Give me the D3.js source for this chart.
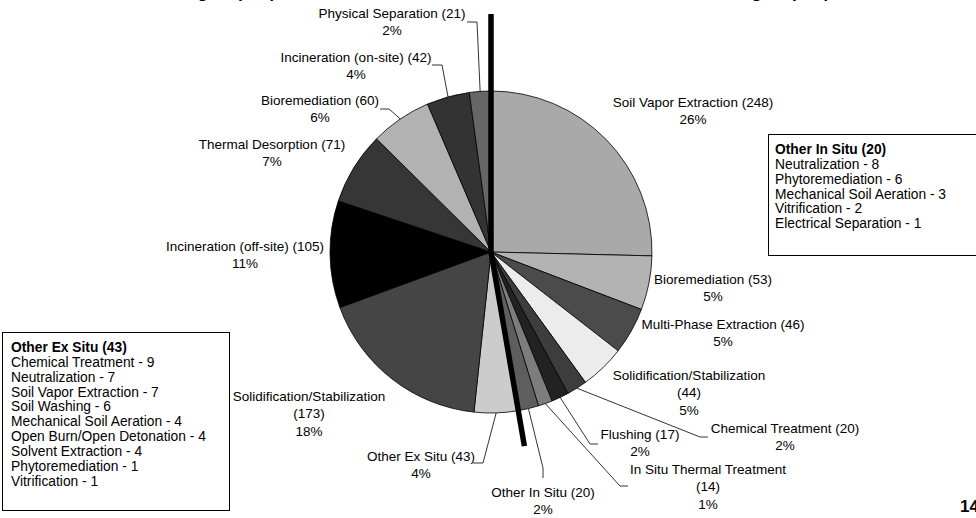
<!DOCTYPE html>
<html><head><meta charset="utf-8">
<script src="https://cdn.jsdelivr.net/npm/d3@7"></script>
<style>
html,body{margin:0;padding:0;background:#fff;}
svg{display:block;}
text{font-family:"Liberation Sans",Arial,Helvetica,sans-serif;fill:#000;}
</style>
</head><body>
<svg id="chart" width="976" height="518"></svg>
<script>
// ---- data ----
const categories = ["Soil Vapor Extraction","Bioremediation","Multi-Phase Extraction","Solidification/Stabilization","Chemical Treatment","Flushing","In Situ Thermal Treatment","Other In Situ","Other Ex Situ","Solidification/Stabilization","Incineration (off-site)","Thermal Desorption","Bioremediation","Incineration (on-site)","Physical Separation"];
const counts = [248,53,46,44,20,17,14,20,43,173,105,71,60,42,21];
const percentLabels = ["26%","5%","5%","5%","2%","2%","1%","2%","4%","18%","11%","7%","6%","4%","2%"];
const otherInSituTitle = "Other In Situ (20)";
const otherInSituNames = ["Neutralization","Phytoremediation","Mechanical Soil Aeration","Vitrification","Electrical Separation"];
const otherInSituCounts = [8,6,3,2,1];
const otherExSituTitle = "Other Ex Situ (43)";
const otherExSituNames = ["Chemical Treatment","Neutralization","Soil Vapor Extraction","Soil Washing","Mechanical Soil Aeration","Open Burn/Open Detonation","Solvent Extraction","Phytoremediation","Vitrification"];
const otherExSituCounts = [9,7,7,6,4,4,4,1,1];
const groupTitles = ["Ex Situ Technologies (515)","In Situ Technologies (462)"];
const pageNumber = "14";

// ---- styles / layout ----
const sliceColors = ["#a9a9a9","#b3b3b3","#4b4b4b","#ececec","#3d3d3d","#222222","#7d7d7d","#5e5e5e","#cccccc","#454545","#000000","#363636","#b2b2b2","#333333","#666666"];
const W = 976, H = 518, cx = 491, cy = 252, R = 161;
const FS = 13.5, LH = 17.5, BFS = 13.8;
// label anchors: x = centre of text block, y = centre of first line; leader = [elbow, end]
const labelLayout = [
  {x:693, y:102},
  {x:713, y:279},
  {x:723, y:324},
  {x:689, y:375, wrap:true},
  {x:785, y:428, leader:[[700,437],[708,437]]},
  {x:640, y:434, leader:[[590,444],[598,444]]},
  {x:708, y:469, wrap:true, leader:[[620,486],[628,486]]},
  {x:543, y:492, leader:[[543,468],[543,478]]},
  {x:421, y:456, leader:[[483,463],[473,463]]},
  {x:309, y:396, wrap:true},
  {x:245, y:246},
  {x:272, y:144},
  {x:320, y:100, leader:[[389,109],[380,109]]},
  {x:356, y:57, leader:[[442,65],[432,65]]},
  {x:392, y:13, leader:[[477,22],[467,22]]}
];

const svg = d3.select("#chart");
svg.append("rect").attr("width",W).attr("height",H).attr("fill","#fff");

const pie = d3.pie().sort(null).value(d => d);
const arcs = pie(counts);
const arc = d3.arc().innerRadius(0).outerRadius(R);

const g = svg.append("g").attr("transform",`translate(${cx},${cy})`);
g.selectAll("path.slice").data(arcs).join("path")
  .attr("class","slice")
  .attr("d",arc)
  .attr("fill",(d,i)=>sliceColors[i])
  .attr("stroke","#000").attr("stroke-width",0.8).attr("stroke-linejoin","round");

// leader lines
const rim = d => { const a=(d.startAngle+d.endAngle)/2; return [cx+R*Math.sin(a), cy-R*Math.cos(a)]; };
const line = d3.line();
arcs.forEach((d,i)=>{
  const L = labelLayout[i];
  if(!L.leader) return;
  svg.append("path").attr("d", line([rim(d), ...L.leader]))
    .attr("fill","none").attr("stroke","#000").attr("stroke-width",0.8);
});

// divider between in situ and ex situ groups
const splitAngle = arcs[7].endAngle;
const divider = [[cx, cy-238],[cx,cy],[cx+197*Math.sin(splitAngle), cy-197*Math.cos(splitAngle)]];
svg.append("path").attr("d", line(divider)).attr("fill","none")
  .attr("stroke","#000").attr("stroke-width",5.5).attr("stroke-linejoin","miter");

// slice labels
arcs.forEach((d,i)=>{
  const L = labelLayout[i];
  const lines = L.wrap ? [categories[i], `(${counts[i]})`, percentLabels[i]]
                       : [`${categories[i]} (${counts[i]})`, percentLabels[i]];
  const t = svg.append("text").attr("text-anchor","middle").attr("font-size",FS);
  lines.forEach((s,k)=>{
    t.append("tspan").attr("x",L.x).attr("y",L.y+k*LH).attr("dy","0.35em").text(s);
  });
});

// boxes
function drawBox(x0,y0,x1,y1,tx,ty,title,names,vals){
  svg.append("rect").attr("x",x0).attr("y",y0).attr("width",x1-x0).attr("height",y1-y0)
    .attr("fill","#fff").attr("stroke","#000").attr("stroke-width",1);
  const bl = 14.9;
  svg.append("text").attr("x",tx).attr("y",ty).attr("dy","0.35em").attr("font-size",BFS)
    .attr("font-weight","bold").text(title);
  names.forEach((n,k)=>{
    svg.append("text").attr("x",tx).attr("y",ty+(k+1)*bl).attr("dy","0.35em")
      .attr("font-size",BFS).text(`${n} - ${vals[k]}`);
  });
}
drawBox(2.5,332.5,229.5,510.5,11,347,otherExSituTitle,otherExSituNames,otherExSituCounts);
drawBox(768.5,134.5,985,255.5,775,149,otherInSituTitle,otherInSituNames,otherInSituCounts);

// group titles (cut off at top edge, only descenders visible)
svg.append("text").attr("x",276).attr("y",-2).attr("text-anchor","end")
  .attr("font-size",17).attr("font-weight","bold").text(groupTitles[0]);
svg.append("text").attr("x",830).attr("y",-2).attr("text-anchor","end")
  .attr("font-size",17).attr("font-weight","bold").text(groupTitles[1]);

// page number
svg.append("text").attr("x",960).attr("y",512).attr("font-size",17)
  .attr("font-weight","bold").text(pageNumber);
</script>
</body></html>
